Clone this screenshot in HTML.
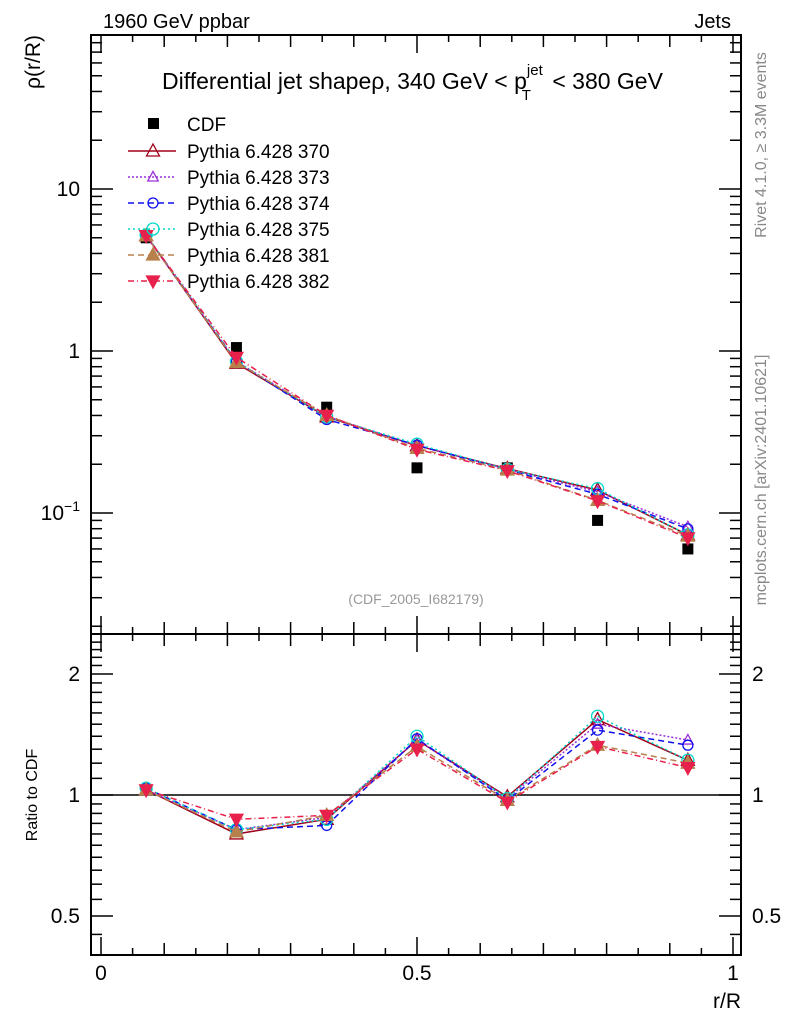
<!DOCTYPE html>
<html><head><meta charset="utf-8"><style>
body{margin:0;background:#fff}
svg text{font-family:"Liberation Sans",sans-serif}
</style></head><body>
<svg id="c" width="786" height="1024" xmlns="http://www.w3.org/2000/svg"></svg>
<script>
const xCenters=[0.0714,0.2143,0.3571,0.5,0.6429,0.7857,0.9286];
const cdfValues=[5.0,1.05,0.45,0.19,0.19,0.09,0.06];
const ratio370=[1.03,0.80,0.87,1.37,0.99,1.54,1.22];
const ratio373=[1.03,0.82,0.88,1.37,0.98,1.50,1.37];
const ratio374=[1.04,0.82,0.84,1.38,0.97,1.45,1.33];
const ratio375=[1.04,0.82,0.87,1.40,0.98,1.57,1.22];
const ratio381=[1.03,0.81,0.89,1.32,0.97,1.33,1.20];
const ratio382=[1.03,0.87,0.89,1.30,0.96,1.32,1.17];
const seriesNames=["Pythia 6.428 370","Pythia 6.428 373","Pythia 6.428 374","Pythia 6.428 375","Pythia 6.428 381","Pythia 6.428 382"];
const xTickLabels=["0","0.5","1"];

const S=document.getElementById('c');const NS="http://www.w3.org/2000/svg";
function el(t,a,p){const e=document.createElementNS(NS,t);for(const k in a)e.setAttribute(k,a[k]);(p||S).appendChild(e);return e;}
const L=91,R=741,T=35,M=634,B=955;
const X=v=>101+632*v;
const YM=v=>351-162*Math.log10(v);
const YR=v=>795-402*Math.log10(v);
const styles=[
 {c:"#a0001a",d:"",m:"tri",f:"none"},
 {c:"#9b30d9",d:"2,2",m:"tri",f:"none",s:0.8},
 {c:"#1010ee",d:"6,4",m:"circ",f:"none"},
 {c:"#00d8c8",d:"2,3",m:"circ",f:"none",s:1.2},
 {c:"#b8804a",d:"6,4",m:"tri",f:"#b8804a"},
 {c:"#e8204c",d:"6,3,1,3",m:"itri",f:"#e8204c"}];
const ratios=[ratio370,ratio373,ratio374,ratio375,ratio381,ratio382];
function marker(g,m,x,y,c,f,s){s=s||1;
 if(m=="tri")el('polygon',{points:`${x},${y-7*s} ${x-6.5*s},${y+5*s} ${x+6.5*s},${y+5*s}`,fill:f,stroke:c,'stroke-width':1.3},g);
 else if(m=="itri")el('polygon',{points:`${x},${y+7*s} ${x-6.5*s},${y-5*s} ${x+6.5*s},${y-5*s}`,fill:f,stroke:c,'stroke-width':1.3},g);
 else el('circle',{cx:x,cy:y,r:5*s,fill:f,stroke:c,'stroke-width':1.3},g);}
el('rect',{x:L,y:T,width:R-L,height:M-T,fill:"none",stroke:"#000","stroke-width":2,});
el('rect',{x:L,y:M,width:R-L,height:B-M,fill:"none",stroke:"#000","stroke-width":2,});
const gx=el('g',{});
for(let i=0;i<=20;i++){const v=i*0.05,x=X(v);
 for(const [y0,dir] of [[T,1],[M,-1],[M,1],[B,-1]]){el('line',{x1:x,x2:x,y1:y0,y2:y0+dir*(i%10==0?18:(i%2==0?12:7)),stroke:"#000","stroke-width":1.5},gx);}}
xTickLabels.forEach((t,i)=>{const e=el('text',{x:X(i*0.5),y:980,'font-size':21,'text-anchor':'middle'},gx);e.textContent=t;});
const xt=el('text',{x:741,y:1008,'font-size':21,'text-anchor':'end',});xt.textContent="r/R";
const gy=el('g',{});
for(let d=-2;d<=1;d++)for(let k=1;k<=9;k++){const v=k*Math.pow(10,d),y=YM(v);if(y<T||y>M)continue;const len=k==1?22:11;
 el('line',{x1:L,x2:L+len,y1:y,y2:y,stroke:"#000","stroke-width":1.5},gy);el('line',{x1:R,x2:R-len,y1:y,y2:y,stroke:"#000","stroke-width":1.5},gy);}
[[10,"10"],[1,"1"]].forEach(([v,t])=>{const e=el('text',{x:80,y:YM(v)+7,'font-size':21,'text-anchor':'end'},gy);e.textContent=t;});
{const e=el('text',{x:80,y:YM(0.1)+7,'font-size':21,'text-anchor':'end'},gy);e.innerHTML='10<tspan dy="-9" font-size="14">−1</tspan>';}
const yt=el('text',{transform:"translate(40,35) rotate(-90)",'font-size':21,'text-anchor':'end',});yt.textContent="ρ(r/R)";
const gr=el('g',{});
for(let v=0.4;v<=2.5;v+=(v<1?0.05:0.1)){const y=YR(v);if(y<M||y>B)continue;const maj=[0.5,1,2].some(z=>Math.abs(z-v)<1e-6);const len=maj?22:11;
 el('line',{x1:L,x2:L+len,y1:y,y2:y,stroke:"#000","stroke-width":1.5},gr);el('line',{x1:R,x2:R-len,y1:y,y2:y,stroke:"#000","stroke-width":1.5},gr);}
[[2,"2"],[1,"1"],[0.5,"0.5"]].forEach(([v,t])=>{let e=el('text',{x:80,y:YR(v)+7,'font-size':21,'text-anchor':'end'},gr);e.textContent=t;e=el('text',{x:752,y:YR(v)+7,'font-size':21},gr);e.textContent=t;});
const rt=el('text',{transform:"translate(37,795) rotate(-90)",'font-size':16,'text-anchor':'middle',});rt.textContent="Ratio to CDF";
el('line',{x1:L,x2:R,y1:YR(1),y2:YR(1),stroke:"#000","stroke-width":1.5,});
const gc=el('g',{});
xCenters.forEach((x,j)=>el('rect',{x:X(x)-5.5,y:YM(cdfValues[j])-5.5,width:11,height:11,fill:"#000"},gc));
styles.forEach((s,i)=>{
 const g=el('g',{});
 const mainPts=xCenters.map((x,j)=>[X(x),YM(ratios[i][j]*cdfValues[j])]);
 const rPts=xCenters.map((x,j)=>[X(x),YR(ratios[i][j])]);
 for(const pts of [mainPts,rPts]){
  el('polyline',{points:pts.map(p=>p.join(',')).join(' '),fill:"none",stroke:s.c,"stroke-width":1.5,"stroke-dasharray":s.d},g);
  pts.forEach(p=>marker(g,s.m,p[0],p[1],s.c,s.f,s.s));}
});
const lg=el('g',{});
el('rect',{x:148,y:118,width:11,height:11,fill:"#000"},lg);
let e=el('text',{x:187,y:131,'font-size':19},lg);e.textContent="CDF";
styles.forEach((s,i)=>{const y=151+26*i;
 el('line',{x1:128,x2:176,y1:y,y2:y,stroke:s.c,"stroke-width":1.5,"stroke-dasharray":s.d},lg);
 marker(lg,s.m,153,y,s.c,s.f,s.s);
 const t=el('text',{x:187,y:y+7,'font-size':19},lg);t.textContent=seriesNames[i];});
e=el('text',{x:103,y:28,'font-size':20,});e.textContent="1960 GeV ppbar";
e=el('text',{x:731,y:28,'font-size':20,'text-anchor':'end',});e.textContent="Jets";
e=el('text',{x:162,y:89,'font-size':23,});
e.innerHTML='Differential jet shapeρ, 340 GeV &lt; p<tspan dy="-14" font-size="15">jet</tspan><tspan dx="-21" dy="25" font-size="15">T</tspan><tspan dx="15" dy="-11"> &lt; 380 GeV</tspan>';
e=el('text',{x:416,y:604,'font-size':14,fill:"#999",'text-anchor':'middle',});e.textContent="(CDF_2005_I682179)";
e=el('text',{transform:"translate(766,145) rotate(-90)",'font-size':16,fill:"#888",'text-anchor':'middle',});e.textContent="Rivet 4.1.0, ≥ 3.3M events";
e=el('text',{transform:"translate(766,480) rotate(-90)",'font-size':16,fill:"#888",'text-anchor':'middle',});e.textContent="mcplots.cern.ch [arXiv:2401.10621]";
</script>
</body></html>
